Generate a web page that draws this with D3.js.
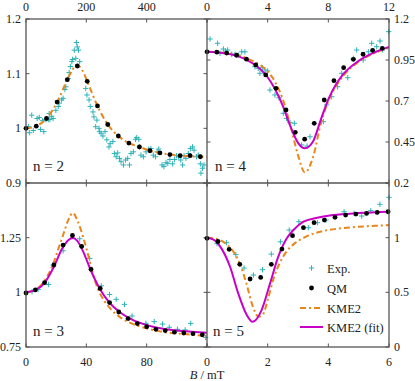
<!DOCTYPE html>
<html><head><meta charset="utf-8">
<script src="https://cdn.jsdelivr.net/npm/d3@7/dist/d3.min.js"></script>
<style>body{margin:0;background:#fff}svg{display:block}text{font-family:"Liberation Serif","DejaVu Serif",serif;fill:#222}</style>
</head><body><svg id="c" width="415" height="381"></svg>
<script>
// ---- n = 2 ----
const n2ExpB = [8,11,19,24,37,44,48,55,59,66,74,77,79,85,90,99,107,110,118,123,129,132,140,143,147,152,154,160,165,167,170,174,178,198,202,209,213,222,225,231,235,242,244,249,255,262,268,275,279,288,293,299,304,310,315,323,330,337,343,348,356,363,367,374,376,381,389,398,407,414,422,429,435,440,451,457,464,470,477,486,492,499,506,513,519,524,530,538,545,552,557,565,571,578,580,585,590];
const n2ExpV = [1.003,0.992,1.024,0.996,1.018,1.020,0.998,1.014,0.994,1.016,1.016,1.027,1.016,1.022,1.018,1.033,1.040,1.046,1.052,1.055,1.071,1.076,1.091,1.102,1.113,1.122,1.126,1.143,1.128,1.157,1.149,1.143,1.122,1.073,1.061,1.052,1.040,1.030,1.021,1.003,1.015,1.000,0.994,0.991,0.986,0.994,0.979,0.966,0.972,0.976,0.954,0.948,0.955,0.945,0.939,0.933,0.942,0.945,0.933,0.954,0.957,0.980,0.983,0.980,0.966,0.951,0.948,0.957,0.962,0.963,0.951,0.948,0.957,0.962,0.933,0.930,0.937,0.936,0.943,0.935,0.943,0.950,0.948,0.942,0.933,0.950,0.945,0.954,0.963,0.966,0.960,0.948,0.951,0.935,0.918,0.927,0.933];
const n2QMB = [0,34,68,103,137,170,203,237,271,306,341,376,411,444,477,511,544,578];
const n2QMV = [1.0,1.004,1.018,1.048,1.089,1.114,1.086,1.041,1.007,0.986,0.973,0.966,0.959,0.955,0.952,0.950,0.950,0.948];
const n2KmeB = [0,34,68,103,137,155,168,185,203,237,271,306,341,376,411,444,477,511,544,578,600];
const n2KmeV = [1.0,1.004,1.018,1.048,1.089,1.108,1.116,1.108,1.086,1.041,1.007,0.986,0.973,0.966,0.959,0.955,0.952,0.950,0.949,0.948,0.947];
// ---- n = 4 ----
const n4ExpB = [0.20,0.70,0.86,1.08,1.23,1.36,1.63,1.85,2.07,2.29,2.5,3.16,3.38,3.49,3.65,3.82,4.0,4.15,4.48,4.75,5.03,5.25,5.47,5.76,6.24,6.6,6.79,7.67,7.89,8.22,8.61,8.88,9.28,9.65,9.87,10.3,10.64,10.86,11.19,11.41,11.56,11.98];
const n4ExpV = [1.078,1.052,0.991,1.017,1.005,1.011,0.985,0.985,0.980,1.0,1.0,0.909,0.899,0.869,0.903,0.889,0.883,0.767,0.737,0.720,0.625,0.594,0.570,0.564,0.432,0.425,0.482,0.574,0.676,0.726,0.787,0.869,0.842,0.960,1.011,0.950,1.0,1.052,1.031,1.066,1.011,1.123];
const n4QMB = [0,0.65,1.3,1.95,2.6,3.21,3.87,4.55,5.21,5.82,6.44,7.07,7.73,8.37,9.01,9.65,10.29,10.92,11.56];
const n4QMV = [1.0,0.998,0.992,0.979,0.955,0.92,0.859,0.777,0.645,0.509,0.467,0.564,0.706,0.824,0.903,0.954,0.985,1.009,1.021];
const n4KmeB = [0,1,2,3,3.5,4,4.5,5,5.5,6,6.45,7,7.5,8,8.5,9,10,11,12];
const n4KmeV = [1.0,0.995,0.98,0.945,0.92,0.88,0.815,0.71,0.55,0.37,0.265,0.36,0.56,0.70,0.79,0.855,0.94,0.99,1.025];
const n4FitB = [0,1,2,3,3.5,4,4.5,5,5.5,6,6.45,7,7.5,8,8.5,9,10,11,12];
const n4FitV = [1.0,0.993,0.975,0.93,0.895,0.845,0.77,0.67,0.545,0.445,0.412,0.455,0.585,0.71,0.80,0.865,0.945,0.995,1.03];
// ---- n = 3 ----
const n3ExpB = [4,8,15,18,24.6,35.6,42.2,49.9,55.4,59.8,65.3,70.3,79.5,85,90.5,95,100.4,105.5,109.2,119.1];
const n3ExpV = [1.003,1.013,1.036,1.125,1.19,1.245,1.155,1.03,0.99,0.968,0.945,0.892,0.858,0.866,0.855,0.84,0.831,0.828,0.858,0.794];
const n3QMB = [0,6.2,12.3,18.5,24.6,30.8,36.9,43.1,49.2,55.4,61.5,67.7,73.8,80,86.1,92.3,98.4,104.6,110.7,116.9];
const n3QMV = [0.997,1.011,1.044,1.125,1.216,1.26,1.21,1.105,1.018,0.953,0.91,0.88,0.857,0.843,0.831,0.825,0.818,0.814,0.811,0.806];
const n3KmeB = [0,6,12,18,22,25,28,31,34,38,42,45,48,52,56,62,70,80,90,100,110,120];
const n3KmeV = [1.0,1.012,1.05,1.13,1.21,1.27,1.33,1.363,1.33,1.25,1.15,1.07,1.01,0.96,0.925,0.888,0.858,0.835,0.82,0.812,0.806,0.80];
const n3FitB = [0,6,12,18,24,28,31,34,37,43,49,55,62,70,80,90,100,110,120];
const n3FitV = [1.0,1.01,1.04,1.11,1.2,1.238,1.248,1.235,1.2,1.1,1.015,0.955,0.91,0.876,0.85,0.835,0.826,0.82,0.815];
// ---- n = 5 ----
const n5ExpB = [0.33,0.64,0.95,1.22,1.53,1.83,2.12,2.42,2.71,3.03,3.34,3.64,3.92,4.52,4.85,5.1,5.4,5.7,6.0];
const n5ExpV = [0.945,0.954,0.845,0.722,0.658,0.707,0.85,0.962,1.07,1.146,1.091,1.137,1.161,1.237,1.222,1.198,1.247,1.305,1.369];
const n5QMB = [0,0.36,0.73,1.08,1.42,1.77,2.12,2.47,2.82,3.18,3.53,3.87,4.22,4.57,4.91,5.26,5.61,5.97];
const n5QMV = [0.994,0.965,0.893,0.756,0.622,0.636,0.756,0.896,1.018,1.091,1.137,1.161,1.186,1.207,1.216,1.222,1.231,1.237];
const n5KmeB = [0,0.3,0.6,0.9,1.1,1.3,1.5,1.7,1.85,2.0,2.2,2.4,2.6,2.9,3.2,3.6,4.0,4.5,5,5.5,6];
const n5KmeV = [1.0,0.99,0.95,0.86,0.75,0.58,0.38,0.277,0.30,0.43,0.63,0.77,0.865,0.95,1.0,1.045,1.07,1.088,1.1,1.108,1.115];
const n5FitB = [0,0.2,0.48,0.76,1.03,1.31,1.5,1.8,2.08,2.35,2.63,2.85,3.18,3.6,4.16,5,6];
const n5FitV = [1.0,0.985,0.9,0.734,0.49,0.293,0.23,0.338,0.583,0.826,0.994,1.07,1.146,1.18,1.207,1.225,1.237];

const legendLabels = ["Exp.","QM","KME2","KME2 (fit)"];
const panelLabels = ["n = 2","n = 4","n = 3","n = 5"];

const cExp = "#2db3b8", cKme = "#e8861a", cFit = "#c800c8", cFrame = "#555";
const L = 26, M = 207, R = 389, T = 19, MY = 183, B = 347;
const svg = d3.select("#c");

const panels = [
  {lab: panelLabels[0], xd:[0,600], xr:[L,M], yd:[0.9,1.2], yr:[MY,T], xt:[0,200,400,600], xl:[0,200,400], xside:"top", yt:[0.9,1,1.1,1.2], yl:[0.9,1,1.1,1.2], yside:"left",
   exp:[n2ExpB,n2ExpV], qm:[n2QMB,n2QMV], kme:[n2KmeB,n2KmeV], fit:null, lx:33, ly:171},
  {lab: panelLabels[1], xd:[0,12], xr:[M,R], yd:[0.2,1.2], yr:[MY,T], xt:[0,4,8,12], xl:[0,4,8,12], xside:"top", yt:[0.2,0.45,0.7,0.95,1.2], yl:[0.2,0.45,0.7,0.95,1.2], yside:"right",
   exp:[n4ExpB,n4ExpV], qm:[n4QMB,n4QMV], kme:[n4KmeB,n4KmeV], fit:[n4FitB,n4FitV], lx:215, ly:171},
  {lab: panelLabels[2], xd:[0,120], xr:[L,M], yd:[0.75,1.5], yr:[B,MY], xt:[0,40,80,120], xl:[0,40,80], xside:"bottom", yt:[0.75,1,1.25,1.5], yl:[0.75,1,1.25], yside:"left",
   exp:[n3ExpB,n3ExpV], qm:[n3QMB,n3QMV], kme:[n3KmeB,n3KmeV], fit:[n3FitB,n3FitV], lx:33, ly:336},
  {lab: panelLabels[3], xd:[0,6], xr:[M,R], yd:[0,1.5], yr:[B,MY], xt:[0,2,4,6], xl:[0,2,4,6], xside:"bottom", yt:[0,0.5,1,1.5], yl:[0,0.5,1], yside:"right",
   exp:[n5ExpB,n5ExpV], qm:[n5QMB,n5QMV], kme:[n5KmeB,n5KmeV], fit:[n5FitB,n5FitV], lx:213, ly:336}
];

const defs = svg.append("defs");
const tk = 3.5;
panels.forEach((p, i) => {
  const x = d3.scaleLinear().domain(p.xd).range(p.xr);
  const y = d3.scaleLinear().domain(p.yd).range(p.yr);
  defs.append("clipPath").attr("id","cl"+i).append("rect")
    .attr("x",p.xr[0]).attr("y",p.yr[1]).attr("width",p.xr[1]-p.xr[0]).attr("height",p.yr[0]-p.yr[1]);
  const g = svg.append("g");
  const tg = g.append("g").attr("stroke",cFrame).attr("stroke-width",1);
  p.xt.forEach(v => {
    const px = x(v);
    tg.append("line").attr("x1",px).attr("x2",px).attr("y1",p.yr[1]).attr("y2",p.yr[1]+tk);
    tg.append("line").attr("x1",px).attr("x2",px).attr("y1",p.yr[0]).attr("y2",p.yr[0]-tk);
  });
  p.yt.forEach(v => {
    const py = y(v);
    tg.append("line").attr("x1",p.xr[0]).attr("x2",p.xr[0]+tk).attr("y1",py).attr("y2",py);
    tg.append("line").attr("x1",p.xr[1]).attr("x2",p.xr[1]-tk).attr("y1",py).attr("y2",py);
  });
  p.xl.forEach(v => {
    g.append("text").attr("x",x(v)).attr("y",p.xside==="top"?11:365.5)
      .attr("text-anchor","middle").attr("font-size",12).text(d3.format("")(v));
  });
  p.yl.forEach(v => {
    g.append("text").attr("x",p.yside==="left"?p.xr[0]-5:p.xr[1]+5).attr("y",y(v)+4)
      .attr("text-anchor",p.yside==="left"?"end":"start").attr("font-size",12).text(d3.format("")(v));
  });
  const pts = (arr) => arr[0].map((b,k)=>[b,arr[1][k]]);
  const ln = d3.line().x(d=>x(d[0])).y(d=>y(d[1])).curve(d3.curveMonotoneX);
  const eg = g.append("g").attr("stroke",cExp).attr("stroke-width",1);
  pts(p.exp).forEach(d => {
    const px = x(d[0]), py = y(d[1]);
    eg.append("path").attr("d",`M${px-2.7},${py}H${px+2.7}M${px},${py-2.7}V${py+2.7}`);
  });
  const cg = g.append("g").attr("clip-path",`url(#cl${i})`).attr("fill","none");
  cg.append("path").attr("d",ln(pts(p.kme))).attr("stroke",cKme).attr("stroke-width",2).attr("stroke-dasharray","6,3,2,3");
  if (p.fit) cg.append("path").attr("d",ln(pts(p.fit))).attr("stroke",cFit).attr("stroke-width",2);
  pts(p.qm).forEach(d => g.append("circle").attr("cx",x(d[0])).attr("cy",y(d[1])).attr("r",2.4).attr("fill","#000"));
  g.append("text").attr("x",p.lx).attr("y",p.ly).attr("font-size",15).text(p.lab);
});

const fg = svg.append("g").attr("stroke",cFrame).attr("stroke-width",1.3).attr("fill","none");
fg.append("rect").attr("x",L).attr("y",T).attr("width",R-L).attr("height",B-T);
fg.append("line").attr("x1",M).attr("x2",M).attr("y1",T).attr("y2",B);
fg.append("line").attr("x1",L).attr("x2",R).attr("y1",MY).attr("y2",MY);

const lg = svg.append("g");
const lx0 = 300, lx1 = 323, tx = 327, ly = [268, 288, 308, 327];
lg.append("path").attr("d",`M${311.5-2.7},${ly[0]}H${311.5+2.7}M311.5,${ly[0]-2.7}V${ly[0]+2.7}`).attr("stroke",cExp).attr("stroke-width",1);
lg.append("circle").attr("cx",311.5).attr("cy",ly[1]).attr("r",2.4).attr("fill","#000");
lg.append("line").attr("x1",lx0).attr("x2",lx1).attr("y1",ly[2]).attr("y2",ly[2]).attr("stroke",cKme).attr("stroke-width",2).attr("stroke-dasharray","6,3,2,3");
lg.append("line").attr("x1",lx0).attr("x2",lx1).attr("y1",ly[3]).attr("y2",ly[3]).attr("stroke",cFit).attr("stroke-width",2);
legendLabels.forEach((t,k)=> lg.append("text").attr("x",tx).attr("y",ly[k]+4.5).attr("font-size",12.5).text(t));

const xl = svg.append("text").attr("x",207).attr("y",379).attr("text-anchor","middle").attr("font-size",12.5);
xl.append("tspan").attr("font-style","italic").text("B");
xl.append("tspan").text(" / mT");
</script></body></html>
